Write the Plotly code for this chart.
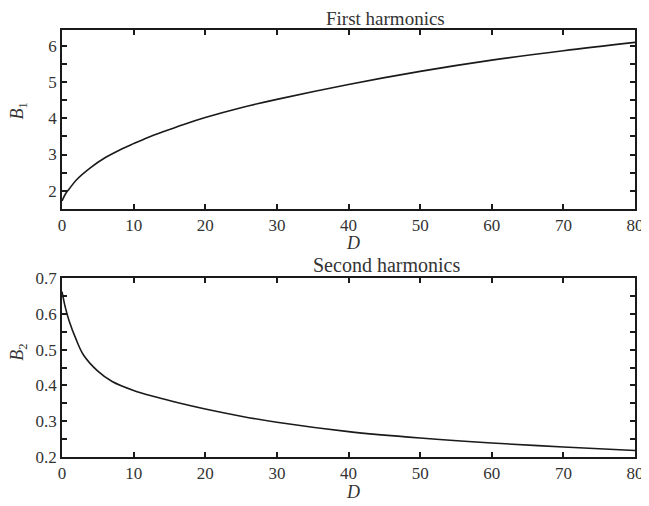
import plotly.graph_objects as go
from plotly.subplots import make_subplots

# First harmonics
D1 = [0, 0.5, 1, 2, 4, 6, 8, 10, 12, 14, 17, 20, 25, 30, 40, 50, 60, 70, 80]
B1 = [1.72, 1.92, 2.05, 2.30, 2.64, 2.91, 3.12, 3.30, 3.47, 3.62, 3.83, 4.02, 4.29, 4.52, 4.93, 5.29, 5.60, 5.86, 6.09]

# Second harmonics
D2 = [0, 0.5, 1, 2, 3, 5, 7, 10, 13, 16.5, 20, 25, 30, 40, 50, 60, 70, 80]
B2 = [0.662, 0.615, 0.580, 0.527, 0.485, 0.440, 0.411, 0.386, 0.368, 0.350, 0.334, 0.314, 0.297, 0.271, 0.253, 0.239, 0.228, 0.218]

x_ticks = [0, 10, 20, 30, 40, 50, 60, 70, 80]
y1_ticks = [2, 3, 4, 5, 6]
y2_ticks = [0.2, 0.3, 0.4, 0.5, 0.6, 0.7]
y2_text = ["0.2", "0.3", "0.4", "0.5", "0.6", "0.7"]

FONT = "Liberation Serif"
INK = "#1a1a1a"
TXT = "#333"

fig = make_subplots(rows=2, cols=1, vertical_spacing=0.1616)
fig.add_trace(go.Scatter(x=D1, y=B1, mode="lines",
                         line=dict(color=INK, width=1.6, shape="spline", smoothing=1.0),
                         showlegend=False), row=1, col=1)
fig.add_trace(go.Scatter(x=D2, y=B2, mode="lines",
                         line=dict(color=INK, width=1.6, shape="spline", smoothing=1.0),
                         showlegend=False), row=2, col=1)

axis_common = dict(showline=True, linecolor=INK, linewidth=1.8, mirror="ticks",
                   ticks="inside", ticklen=5, tickwidth=1.5, tickcolor=INK,
                   showgrid=False, zeroline=False, automargin=False,
                   tickfont=dict(family=FONT, size=17, color=TXT))

fig.update_xaxes(range=[0, 80], tickvals=x_ticks, **axis_common)
fig.update_yaxes(range=[1.5, 6.43], tickvals=y1_ticks,
                 minor=dict(tick0=1.5, dtick=1, ticks="inside", ticklen=5, tickwidth=1.5,
                            tickcolor=INK, showgrid=False),
                 row=1, col=1, **axis_common)
fig.update_yaxes(range=[0.2, 0.7], tickvals=y2_ticks, ticktext=y2_text,
                 minor=dict(tick0=0.25, dtick=0.1, ticks="inside", ticklen=5, tickwidth=1.5,
                            tickcolor=INK, showgrid=False),
                 row=2, col=1, **axis_common)

lab = dict(family=FONT, size=18, color=TXT)
fig.update_layout(
    width=641, height=498,
    margin=dict(l=54, r=14, t=22, b=49),
    paper_bgcolor="white", plot_bgcolor="white",
    annotations=[
        dict(text="First harmonics", x=0.565, y=1.0, xref="paper", yref="paper",
             xanchor="center", yanchor="bottom", showarrow=False, yshift=-1,
             font=dict(family=FONT, size=19, color=TXT)),
        dict(text="Second harmonics", x=0.567, y=0.4192, xref="paper", yref="paper",
             xanchor="center", yanchor="bottom", showarrow=False, yshift=0,
             font=dict(family=FONT, size=20, color=TXT)),
        dict(text="<i>D</i>", x=0.508, y=0.5035, xref="paper", yref="paper",
             xanchor="center", yanchor="middle", showarrow=False, yshift=-1, font=lab),
        dict(text="<i>D</i>", x=0.508, y=-0.0796, xref="paper", yref="paper",
             xanchor="center", yanchor="middle", showarrow=False, yshift=-1, font=lab),
        dict(text="<i>B</i><sub>1</sub>", x=0, y=0.809, xref="paper", yref="paper",
             xanchor="center", yanchor="middle", showarrow=False, textangle=-90,
             xshift=-43, font=lab),
        dict(text="<i>B</i><sub>2</sub>", x=0, y=0.244, xref="paper", yref="paper",
             xanchor="center", yanchor="middle", showarrow=False, textangle=-90,
             xshift=-43, font=lab),
    ],
)

fig.write_html("out.html")
